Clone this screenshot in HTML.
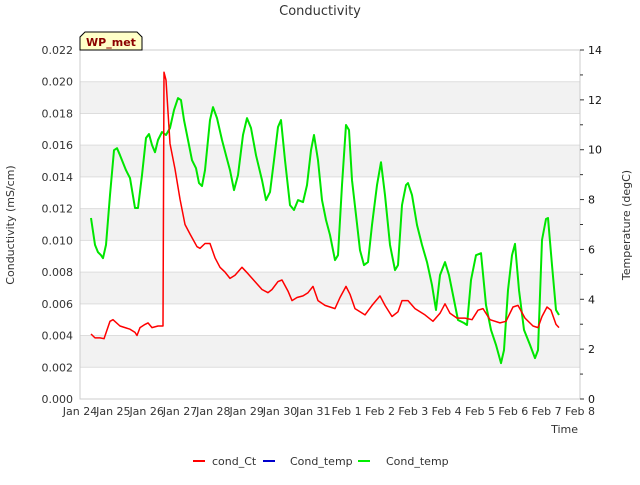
<!DOCTYPE html>
<html><head><meta charset="utf-8"><style>
body{margin:0;background:#fff;}
svg{font-family:"DejaVu Sans","Liberation Sans",sans-serif;}
</style></head><body>
<svg id="chart" width="640" height="480" xmlns="http://www.w3.org/2000/svg">
<rect width="640" height="480" fill="#fff"/>
<text x="320" y="15" text-anchor="middle" font-size="13" fill="#333">Conductivity</text>
<g id="bands"></g>
<g id="grid"></g>
<rect x="80" y="50" width="500" height="349" fill="none" stroke="#ccc"/>
<g id="xticks"></g><g id="lticks"></g><g id="rticks"></g>
<g id="series"></g>
<text x="14" y="225" transform="rotate(-90 14 225)" text-anchor="middle" font-size="11" fill="#333">Conductivity (mS/cm)</text>
<text x="630" y="225" transform="rotate(-90 630 225)" text-anchor="middle" font-size="11" fill="#333">Temperature (degC)</text>
<text x="578" y="433" text-anchor="end" font-size="11" fill="#333">Time</text>
<g>
<path d="M80,50 L80,37 L85,32 L137,32 L142,37 L142,50 Z" fill="#ffffc8" stroke="#000" stroke-width="1"/>
<text x="111" y="46" text-anchor="middle" font-size="11" font-weight="bold" fill="#8b0000">WP_met</text>
</g>
<g>
<g><line x1="193" y1="461" x2="205" y2="461" stroke="#f00" stroke-width="2"/><text x="212" y="465" font-size="11" fill="#333">cond_Ct</text></g>
<g><line x1="263" y1="461" x2="275" y2="461" stroke="#00c" stroke-width="2"/><text x="290" y="465" font-size="11" fill="#333">Cond_temp</text></g>
<g><line x1="358" y1="461" x2="370" y2="461" stroke="#0e0" stroke-width="2"/><text x="386" y="465" font-size="11" fill="#333">Cond_temp</text></g>
</g>
</svg>
<script>
const xTickLabels=["Jan 24","Jan 25","Jan 26","Jan 27","Jan 28","Jan 29","Jan 30","Jan 31","Feb 1","Feb 2","Feb 3","Feb 4","Feb 5","Feb 6","Feb 7","Feb 8"];
const condTicks=[0,0.002,0.004,0.006,0.008,0.010,0.012,0.014,0.016,0.018,0.020,0.022];
const tempTicks=[0,2,4,6,8,10,12,14];
const condDays=[0.33,0.45,0.60,0.72,0.90,0.99,1.20,1.50,1.65,1.71,1.80,1.95,2.04,2.16,2.34,2.49,2.52,2.58,2.70,2.85,3.00,3.15,3.30,3.51,3.60,3.75,3.90,4.05,4.20,4.35,4.50,4.65,4.86,5.04,5.25,5.46,5.64,5.76,5.94,6.06,6.24,6.36,6.51,6.69,6.84,6.99,7.14,7.35,7.65,7.80,7.98,8.10,8.25,8.55,8.76,9.00,9.15,9.36,9.54,9.66,9.84,10.05,10.35,10.59,10.80,10.95,11.10,11.31,11.55,11.76,11.94,12.09,12.30,12.60,12.78,12.99,13.14,13.35,13.59,13.74,13.86,14.01,14.13,14.28,14.37];
const condValues=[0.0041,0.00385,0.00385,0.0038,0.0049,0.0050,0.0046,0.0044,0.0042,0.0040,0.0045,0.0047,0.0048,0.0045,0.0046,0.0046,0.0206,0.0201,0.0161,0.0145,0.0126,0.0110,0.0104,0.0096,0.0095,0.0098,0.0098,0.0089,0.0083,0.0080,0.0076,0.0078,0.0083,0.0079,0.0074,0.0069,0.0067,0.0069,0.0074,0.0075,0.0068,0.0062,0.0064,0.0065,0.0067,0.0071,0.0062,0.0059,0.0057,0.0064,0.0071,0.0066,0.0057,0.0053,0.0059,0.0065,0.0059,0.0052,0.0055,0.0062,0.0062,0.0057,0.0053,0.0049,0.0054,0.0060,0.0054,0.0051,0.0051,0.0050,0.0056,0.0057,0.0050,0.0048,0.0049,0.0058,0.0059,0.0051,0.0046,0.0045,0.0052,0.0058,0.0056,0.0047,0.0045];
const tempDays=[0.33,0.45,0.54,0.63,0.69,0.78,0.90,1.02,1.11,1.20,1.38,1.50,1.65,1.74,1.86,1.98,2.07,2.16,2.25,2.34,2.46,2.58,2.70,2.82,2.94,3.03,3.12,3.24,3.36,3.48,3.57,3.66,3.75,3.90,3.99,4.11,4.26,4.38,4.50,4.62,4.74,4.89,5.01,5.13,5.28,5.46,5.58,5.70,5.82,5.94,6.03,6.15,6.30,6.42,6.54,6.69,6.81,6.93,7.02,7.14,7.26,7.38,7.50,7.65,7.74,7.86,7.98,8.07,8.16,8.28,8.40,8.52,8.64,8.76,8.91,9.03,9.15,9.30,9.45,9.54,9.66,9.78,9.84,9.96,10.11,10.26,10.41,10.56,10.68,10.80,10.95,11.07,11.22,11.34,11.52,11.61,11.73,11.88,12.03,12.18,12.33,12.48,12.63,12.72,12.84,12.96,13.05,13.17,13.32,13.50,13.65,13.74,13.86,13.98,14.04,14.16,14.28,14.37];
const tempValues=[7.26,6.18,5.89,5.77,5.65,6.18,8.18,9.98,10.06,9.78,9.18,8.86,7.66,7.66,8.98,10.47,10.63,10.19,9.90,10.39,10.71,10.59,10.87,11.59,12.07,11.99,11.19,10.39,9.58,9.26,8.66,8.54,9.18,11.19,11.71,11.27,10.39,9.78,9.18,8.38,8.98,10.59,11.27,10.87,9.78,8.78,7.98,8.30,9.58,10.91,11.19,9.58,7.78,7.58,7.98,7.90,8.58,9.98,10.59,9.58,7.98,7.18,6.58,5.57,5.77,8.58,10.99,10.79,8.78,7.38,5.97,5.37,5.49,6.98,8.58,9.50,8.18,6.18,5.17,5.37,7.78,8.58,8.66,8.18,6.98,6.18,5.49,4.57,3.57,4.97,5.49,4.97,3.97,3.17,3.05,2.97,4.77,5.77,5.85,3.77,2.77,2.17,1.44,1.96,4.37,5.77,6.22,4.37,2.77,2.17,1.64,1.96,6.38,7.22,7.26,5.37,3.57,3.37];

const NS="http://www.w3.org/2000/svg";
const L=80,R=580,T=50,B=399;
const xs=d=>L+(R-L)*d/15;
const yc=v=>B-(B-T)*v/0.022;
const yt=v=>B-(B-T)*v/14;
function mk(tag,attrs,parent){const e=document.createElementNS(NS,tag);for(const k in attrs)e.setAttribute(k,attrs[k]);parent.appendChild(e);return e;}
const bands=document.getElementById('bands'),grid=document.getElementById('grid');
for(let i=1;i<condTicks.length-1;i+=2){
  const r=mk('rect',{x:L,y:yc(condTicks[i+1]),width:R-L,height:yc(condTicks[i])-yc(condTicks[i+1]),fill:'#f2f2f2'},bands);
  
  
}
const lt=document.getElementById('lticks');
condTicks.forEach(v=>{
  const g=mk('line',{x1:L,x2:R,y1:yc(v),y2:yc(v),stroke:'#ddd'},grid);
  
  
  const t=mk('text',{x:73,y:yc(v)+4,'text-anchor':'end','font-size':11,fill:'#333'},lt);
  t.textContent=v.toFixed(3);
  
  
});
const rt=document.getElementById('rticks');
tempTicks.forEach(v=>{
  mk('line',{x1:R,x2:R+4,y1:yt(v),y2:yt(v),stroke:'#333'},rt);
  if(v<14)mk('line',{x1:R,x2:R+3,y1:yt(v+1),y2:yt(v+1),stroke:'#333'},rt);
  const t=mk('text',{x:588,y:yt(v)+4,'font-size':11,fill:'#111'},rt);
  t.textContent=v;
  
  
});
const xt=document.getElementById('xticks');
xTickLabels.forEach((s,i)=>{
  const t=mk('text',{x:xs(i),y:415,'text-anchor':'middle','font-size':11,fill:'#333'},xt);
  t.textContent=s;
  
  
});
const ser=document.getElementById('series');
const tp=tempDays.map((d,i)=>xs(d).toFixed(1)+','+yt(tempValues[i]).toFixed(1)).join(' ');
const tl=mk('polyline',{points:tp,fill:'none',stroke:'#00e600','stroke-width':2,'stroke-linejoin':'round'},ser);


const cp=condDays.map((d,i)=>xs(d).toFixed(1)+','+yc(condValues[i]).toFixed(1)).join(' ');
const cl=mk('polyline',{points:cp,fill:'none',stroke:'#f00','stroke-width':1.5,'stroke-linejoin':'round'},ser);


</script>
</body></html>
